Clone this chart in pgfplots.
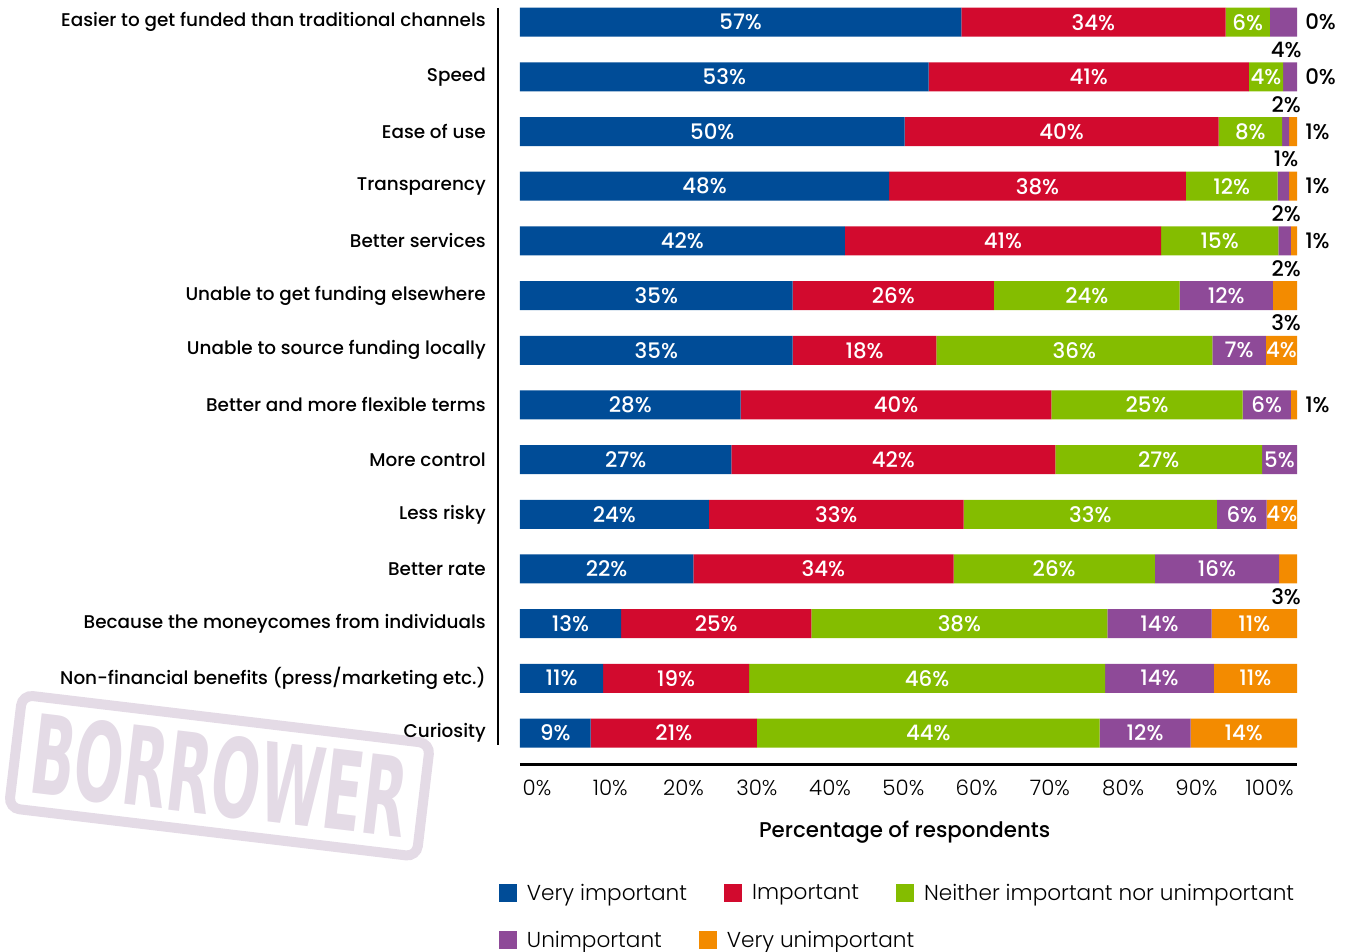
\documentclass[border=0pt]{standalone}
\usepackage{fontspec}
\setmainfont{Poppins}
\IfFontExistsTF{Poppins Medium}{\newfontfamily\medfont{Poppins Medium}}{\newfontfamily\medfont{Poppins}}
\IfFontExistsTF{Poppins Light}{\newfontfamily\lightfont{Poppins Light}}{\newfontfamily\lightfont{Poppins}}
\newfontfamily\wmfont{DejaVu Sans}
\usepackage{pgfplots}
\pgfplotsset{compat=1.18}
\usepackage{pgfplotstable}

\definecolor{cblue}{RGB}{0,76,151}
\definecolor{cred}{RGB}{210,10,46}
\definecolor{cgreen}{RGB}{132,189,0}
\definecolor{cpurple}{RGB}{142,74,152}
\definecolor{corange}{RGB}{243,139,0}
\definecolor{wm}{RGB}{228,219,230}

\newcommand\labfont{\medfont\fontsize{16}{19}\selectfont}
\newcommand\catfont{\medfont\fontsize{13.8}{16}\selectfont}
\newcommand\tickfont{\lightfont\fontsize{16}{19}\selectfont}
\newcommand\legfont{\lightfont\fontsize{16.2}{19}\selectfont}

\pgfplotsset{sqlegend/.style={legend image code/.code={\fill[##1] (0pt,-6.75pt) rectangle (13.5pt,6.75pt);}}}

\pgfplotstableread{
y a b c d e la lb lc ld le
0 56.8 34.0 5.7 3.5 0.0 57\% 34\% 6\% {} {}
1 52.6 41.2 4.4 1.8 0.0 53\% 41\% 4\% {} {}
2 49.5 40.4 8.2 0.9 1.0 50\% 40\% 8\% {} {}
3 47.5 38.2 11.8 1.5 1.0 48\% 38\% 12\% {} {}
4 41.8 40.7 15.1 1.6 0.8 42\% 41\% 15\% {} {}
5 35.1 25.9 23.9 12.0 3.1 35\% 26\% 24\% 12\% {}
6 35.1 18.5 35.5 6.9 4.0 35\% 18\% 36\% 7\% 4\%
7 28.4 40.0 24.6 6.2 0.8 28\% 40\% 25\% 6\% {}
8 27.2 41.7 26.6 4.5 0.0 27\% 42\% 27\% 5\% {}
9 24.3 32.8 32.6 6.4 3.9 24\% 33\% 33\% 6\% 4\%
10 22.3 33.5 25.9 16.0 2.3 22\% 34\% 26\% 16\% {}
11 13.0 24.5 38.1 13.4 11.0 13\% 25\% 38\% 14\% 11\%
12 10.7 18.8 45.8 14.0 10.7 11\% 19\% 46\% 14\% 11\%
13 9.1 21.4 44.1 11.7 13.7 9\% 21\% 44\% 12\% 14\%
}\data

\pgfplotstableread{
x y l
100 0 0\%
100 1 0\%
100 2 1\%
100 3 1\%
100 4 1\%
100 7 1\%
}\rlab

\pgfplotstableread{
x y l
98.6 0.5 4\%
98.6 1.5 2\%
98.6 2.5 1\%
98.6 3.5 2\%
98.6 4.5 2\%
98.6 5.5 3\%
98.6 10.5 3\%
}\blab

\begin{document}
\begin{tikzpicture}
% watermark
\node[rotate=-6.8, draw=wm, line width=7.5pt, rounded corners=8pt, minimum width=308pt, minimum height=85.5pt] at (-225.4pt,-8.06pt) {};
\node[rotate=-6.8, xscale=0.72, yscale=1.37, text=wm, font=\wmfont\bfseries\fontsize{60}{60}\selectfont, inner sep=0pt] at (-225.4pt,-8.06pt) {BORROWER};

\begin{axis}[
  name=main,
  at={(0,0)}, anchor=south west,
  width=582.75pt, height=567.75pt, scale only axis,
  xbar stacked, bar width=21.75pt,
  every axis plot post/.append style={sqlegend},
  xmin=0, xmax=100, ymin=-0.26, ymax=13.585, y dir=reverse,
  axis line style={draw=none},
  major tick length=0pt,
  xtick={2.19,11.62,21.05,30.48,39.91,49.34,58.77,68.20,77.63,87.06,96.49},
  xticklabels={0\%,10\%,20\%,30\%,40\%,50\%,60\%,70\%,80\%,90\%,100\%},
  ytick={0,1,2,3,4,5,6,7,8,9,10,11,12,13},
  yticklabels={Easier to get funded than traditional channels, Speed, Ease of use, Transparency, Better services, Unable to get funding elsewhere, Unable to source funding locally, Better and more flexible terms, More control, Less risky, Better rate, Because the moneycomes from individuals, Non-financial benefits (press/marketing etc.), Curiosity},
  yticklabel style={font=\catfont, inner sep=0pt, anchor=east, xshift=-25.5pt},
  xticklabel style={font=\tickfont, inner sep=0pt, anchor=north, yshift=-11pt},
  xlabel={Percentage of respondents},
  xlabel style={font=\labfont, at={(axis description cs:0.495,0)}, anchor=center, yshift=-50.25pt},
  clip=false,
  legend columns=-1,
  legend cell align=left,
  legend style={draw=none, fill=none, at={(axis description cs:0,0)}, anchor=west, xshift=-15.75pt, yshift=-96pt, inner sep=0pt, outer sep=0pt, font=\legfont, nodes={inner sep=0pt, anchor=west}, /tikz/every odd column/.append style={column sep=7.5pt}, /tikz/every even column/.append style={column sep=27.75pt}},
]
\addplot[fill=cblue, draw=none] table[x=a, y=y]{\data};
\addplot[fill=cred, draw=none] table[x=b, y=y]{\data};
\addplot[fill=cgreen, draw=none] table[x=c, y=y]{\data};
\addplot[fill=cpurple, draw=none] table[x=d, y=y]{\data};
\addplot[fill=corange, draw=none] table[x=e, y=y]{\data};
\legend{Very important, Important, Neither important nor unimportant}
\end{axis}

\begin{axis}[
  at={(0,0)}, anchor=south west,
  width=582.75pt, height=567.75pt, scale only axis,
  xmin=0, xmax=100, ymin=-0.26, ymax=13.585, y dir=reverse,
  hide axis, clip=false,
  legend columns=-1,
  legend cell align=left,
  legend style={draw=none, fill=none, at={(axis description cs:0,0)}, anchor=west, xshift=-15.75pt, yshift=-131.25pt, inner sep=0pt, outer sep=0pt, font=\legfont, nodes={inner sep=0pt, anchor=west}, /tikz/every odd column/.append style={column sep=7.5pt}, /tikz/every even column/.append style={column sep=27.75pt}},
  lab/.style={forget plot, only marks, mark=*, mark size=0pt, mark options={draw opacity=0, fill opacity=0}, point meta=explicit symbolic, nodes near coords={\pgfplotspointmeta}, every node near coord/.append style={anchor=center, text=white, font=\labfont, inner sep=0pt, text opacity=1}},
]
\addplot[lab] table[x expr=\thisrow{a}/2, y=y, meta=la]{\data};
\addplot[lab] table[x expr=\thisrow{a}+\thisrow{b}/2, y=y, meta=lb]{\data};
\addplot[lab] table[x expr=\thisrow{a}+\thisrow{b}+\thisrow{c}/2, y=y, meta=lc]{\data};
\addplot[lab] table[x expr=\thisrow{a}+\thisrow{b}+\thisrow{c}+\thisrow{d}/2, y=y, meta=ld]{\data};
\addplot[lab] table[x expr=\thisrow{a}+\thisrow{b}+\thisrow{c}+\thisrow{d}+\thisrow{e}/2, y=y, meta=le]{\data};
\addplot[lab, every node near coord/.append style={anchor=west, text=black, xshift=6pt}] table[x=x, y=y, meta=l]{\rlab};
\addplot[lab, every node near coord/.append style={anchor=center, text=black}] table[x=x, y=y, meta=l]{\blab};
\addlegendimage{fill=cpurple, draw=none, sqlegend}
\addlegendentry{Unimportant}
\addlegendimage{fill=corange, draw=none, sqlegend}
\addlegendentry{Very unimportant}
\end{axis}

\draw[line width=1.5pt] (-16.5pt,567.75pt) -- (-16.5pt,15pt);
\draw[line width=2.25pt] (0pt,0pt) -- (582.75pt,0pt);

\pgfresetboundingbox
\path[use as bounding box] (-390pt,-140.25pt) rectangle (622.5pt,573.75pt);
\end{tikzpicture}
\end{document}
